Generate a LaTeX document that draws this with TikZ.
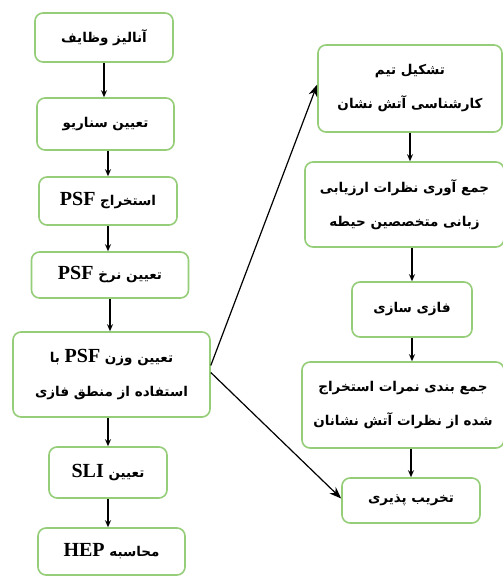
\documentclass[tikz,border=0pt]{standalone}
\usepackage{fontspec}
\usetikzlibrary{arrows.meta,positioning}
\TeXXeTstate=1
\newfontfamily\persianfont[Script=Arabic]{DejaVu Sans}
\newfontfamily\latinfont{Liberation Serif}
\definecolor{boxgreen}{RGB}{150,205,120}
\newcommand{\fatext}[1]{\beginR #1\endR}
\newcommand{\entext}[1]{\beginL{\latinfont\bfseries\fontsize{20}{34}\selectfont #1}\endL{}}

\begin{document}
\begin{tikzpicture}[x=1pt,y=-1pt,
    stepbox/.style={draw=boxgreen, line width=1.6pt, rounded corners=8pt, fill=white,
      align=center, inner sep=0pt, font=\persianfont\bfseries\fontsize{13.5}{34}\selectfont},
    flow/.style={-{Stealth[length=7pt,width=6pt]}, line width=1.1pt},
    jump/.style={-{Stealth[length=12pt,width=9pt]}, line width=1.2pt}]
    % \clip (0,0) rectangle (503,576);
    \useasboundingbox [fill=white] (0,0) rectangle (503,576);

    % Drawing left column
    \node [stepbox, minimum width=138, minimum height=49] (L1) at (104.0,37.5) {\fatext{آنالیز وظایف}};
    \node [stepbox, minimum width=137, minimum height=52] (L2) at (105.5,124.0) {\fatext{تعیین سناریو}};
    \node [stepbox, minimum width=138, minimum height=48] (L3) at (108.0,201.0) {\fatext{استخراج \entext{PSF}}};
    \node [stepbox, minimum width=157, minimum height=46] (L4) at (110.0,275.0) {\fatext{تعیین نرخ \entext{PSF}}};
    \node [stepbox, minimum width=197, minimum height=85] (L5) at (111.5,374.5) {\fatext{تعیین وزن \entext{PSF} با}\\ \fatext{استفاده از منطق فازی}};
    \node [stepbox, minimum width=118, minimum height=51] (L6) at (108.0,472.5) {\fatext{تعیین \entext{SLI}}};
    \node [stepbox, minimum width=147, minimum height=47] (L7) at (111.5,551.5) {\fatext{محاسبه \entext{HEP}}};

    % Drawing right column
    \node [stepbox, minimum width=184, minimum height=87] (R1) at (410.0,88.5) {\fatext{تشکیل تیم}\\ \fatext{کارشناسی آتش نشان}};
    \node [stepbox, minimum width=199, minimum height=85] (R2) at (404.5,204.5) {\fatext{جمع آوری نظرات ارزیابی}\\ \fatext{زبانی متخصصین حیطه}};
    \node [stepbox, minimum width=120, minimum height=55] (R3) at (412.0,309.5) {\fatext{فازی سازی}};
    \node [stepbox, minimum width=202, minimum height=86] (R4) at (403.0,405.0) {\fatext{جمع بندی نمرات استخراج}\\ \fatext{شده از نظرات آتش نشانان}};
    \node [stepbox, minimum width=138, minimum height=45] (R5) at (411.0,500.5) {\fatext{تخریب پذیری}};

    % Drawing arrows of left column
    \draw [flow] (L1.south) -- (L1.south |- L2.north);
    \draw [flow] (L3.north |- L2.south) -- (L3.north);
    \draw [flow] (L3.south) -- (L3.south |- L4.north);
    \draw [flow] (L4.south) -- (L4.south |- L5.north);
    \draw [flow] (L6.north |- L5.south) -- (L6.north);
    \draw [flow] (L6.south) -- (L6.south |- L7.north);

    % Drawing arrows of right column
    \draw [flow] (R1.south) -- (R1.south |- R2.north);
    \draw [flow] (R3.north |- R2.south) -- (R3.north);
    \draw [flow] (R3.south) -- (R3.south |- R4.north);
    \draw [flow] (R5.north |- R4.south) -- (R5.north);

    % Drawing the two branches
    \draw [jump] ([yshift=9pt]L5.east) -- ([yshift=4pt]R1.west);
    \draw [jump] ([yshift=2pt]L5.east) -- ([yshift=2pt]R5.west);
\end{tikzpicture}
\end{document}
